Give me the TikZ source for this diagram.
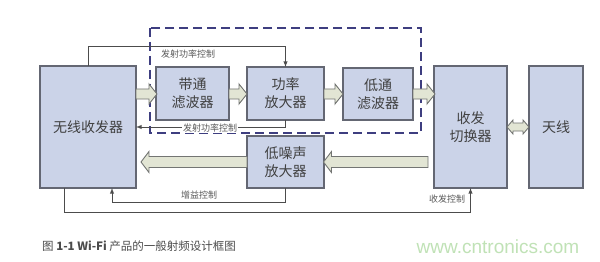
\documentclass[tikz,border=0pt]{standalone}
\usepackage{fontspec}
\setmainfont{Liberation Sans}
\newfontfamily\cjk{Noto Sans CJK SC}
\usetikzlibrary{calc}
\definecolor{boxfill}{RGB}{203,211,232}
\definecolor{boxline}{RGB}{100,103,115}
\definecolor{arrfill}{RGB}{226,229,212}
\definecolor{arrline}{RGB}{115,117,115}
\definecolor{dashcol}{RGB}{62,62,128}
\definecolor{wmark}{RGB}{192,226,182}
\definecolor{captcol}{RGB}{75,75,75}
\newcommand\blkright[3]{% x0 x1 y
  \filldraw[blkarrow] (#1,#3-5) -- (#2-8,#3-5) -- (#2-8,#3-10) -- (#2,#3) -- (#2-8,#3+10) -- (#2-8,#3+5) -- (#1,#3+5) -- cycle;}
\newcommand\blkleft[3]{% x0(tail,right) x1(tip,left) y
  \filldraw[blkarrow] (#1,#3-5.5) -- (#2+8,#3-5.5) -- (#2+8,#3-10.5) -- (#2,#3) -- (#2+8,#3+10.5) -- (#2+8,#3+5.5) -- (#1,#3+5.5) -- cycle;}
\newcommand\blkboth[3]{% x0 x1 y
  \filldraw[blkarrow] (#1,#3) -- (#1+6,#3-7) -- (#1+6,#3-4) -- (#2-6,#3-4) -- (#2-6,#3-7) -- (#2,#3) -- (#2-6,#3+7) -- (#2-6,#3+4) -- (#1+6,#3+4) -- (#1+6,#3+7) -- cycle;}
\begin{document}
\begin{tikzpicture}[x=1pt,y=-1pt,
  blk/.style={draw=boxline, fill=boxfill, line width=1.1pt, inner sep=0pt, outer sep=0pt,
    font=\cjk\fontsize{14}{18}\selectfont, align=center, text=black!75},
  blkarrow/.style={draw=arrline, fill=arrfill, line width=0.9pt},
  ctl/.style={draw=black!70, line width=0.9pt, -latex},
  lbl/.style={font=\cjk\fontsize{9}{10}\selectfont, text=black!65, inner sep=1pt},
  ]
\useasboundingbox (0,0) rectangle (600,262);
\fill[white] (0,0) rectangle (600,262);
% dashed enclosure
\draw[dashcol, line width=1.5pt, dash pattern=on 9pt off 5pt] (150,28) rectangle (421,133);
% boxes
\node[blk, minimum width=96, minimum height=122] (trx) at (88,127) {无线收发器};
\node[blk, minimum width=73, minimum height=53] (bpf) at (192.5,93.5) {带通\\滤波器};
\node[blk, minimum width=77, minimum height=53] (pa) at (285.5,93.5) {功率\\放大器};
\node[blk, minimum width=70, minimum height=52] (lpf) at (378,94) {低通\\滤波器};
\node[blk, minimum width=73, minimum height=122] (sw) at (470.5,127) {收发\\切换器};
\node[blk, minimum width=54, minimum height=122] (ant) at (556,127) {天线};
\node[blk, minimum width=77, minimum height=52] (lna) at (285.5,162) {低噪声\\放大器};
% block arrows
\blkright{136}{157}{94}
\blkright{229}{247}{94}
\blkright{324}{343}{94}
\blkright{413}{435}{94}
\blkboth{507}{529}{127}
\blkleft{428}{323.5}{162}
\blkleft{247}{141}{162}
% control lines
\coordinate (trxg) at (112,188);
\coordinate (trxc) at (64,188);
\draw[ctl] (trx.north) -- ++(0,-20) -| (pa.north);
\draw[ctl] (pa.south) |- (trx.east);
\draw[ctl] (lna.south) -- ++(0,14) -| (trxg);
\draw[ctl] (trxc) -- ++(0,24) -| (sw.south);
% labels
\node[lbl] (l1) at (188,54) {发射功率控制};
\node[lbl, fill=white] (l2) at (210,128) {发射功率控制};
\node[lbl] (l3) at (199,195) {增益控制};
\node[lbl] (l4) at (447,199) {收发控制};
% caption
\node[anchor=west, inner sep=0pt, text=captcol, font=\cjk\fontsize{11.5}{13}\selectfont] (cap) at (42,246) {图 {\bfseries 1-1 Wi-Fi} 产品的一般射频设计框图};
\node[inner sep=0pt, text=wmark, font=\fontsize{19}{22}\selectfont] (wm) at (498,247) {www.cntronics.com};
\end{tikzpicture}
\end{document}
